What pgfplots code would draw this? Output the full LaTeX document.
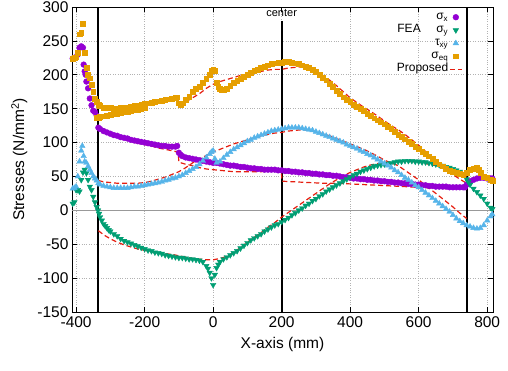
\documentclass[border=0pt]{standalone}
\usepackage{fontspec}
\setmainfont{Liberation Sans}
\usepackage{pgfplots}
\pgfplotsset{compat=1.18}
\definecolor{cx}{HTML}{9400D3}
\definecolor{cy}{HTML}{009E73}
\definecolor{cxy}{HTML}{56B4E9}
\definecolor{ceq}{HTML}{E69F00}
\definecolor{cred}{HTML}{E51E10}
\begin{document}
\begin{tikzpicture}
\begin{axis}[
  scale only axis, width=421pt, height=305pt,
  xmin=-412, xmax=817, ymin=-150, ymax=300,
  xtick={-400,-200,0,200,400,600,800},
  ytick={-150,-100,-50,0,50,100,150,200,250,300},
  tick align=inside, major tick length=5pt,
  tick style={black, line width=0.6pt},
  axis line style={black, line width=0.8pt},
  grid=major, major grid style={dotted, gray!60, line width=0.6pt},
  /pgf/number format/assume math mode=true,
  tick label style={font=\fontsize{15.5}{17}\selectfont},
  xticklabel style={yshift=-1pt},
  xlabel={X-axis (mm)}, ylabel={Stresses (N/mm\textsuperscript{2})},
  label style={font=\fontsize{15.5}{17}\selectfont},
  xlabel style={at={(axis description cs:0.5,-0.108)}, anchor=center},
  ylabel style={at={(axis description cs:-0.125,0.5)}, anchor=center},
  legend style={draw=none, fill=none, at={(axis description cs:0.935,0.995)}, anchor=north east,
    font=\fontsize{12}{12}\selectfont, row sep=0pt,
    nodes={inner sep=1pt, text height=8.2pt, text depth=2.8pt}, cells={anchor=east}},
  legend plot pos=right,
  legend image code/.code={\draw[mark repeat=2,mark phase=2,#1] plot coordinates {(0pt,0pt) (6pt,0pt) (12pt,0pt)};},
  clip=true,
]
\draw[gray!80, line width=1.2pt] (axis cs:-412,0) -- (axis cs:817,0);

% sigma_x FEA
\addplot[only marks, mark=*, mark size=2.9pt, color=cx] coordinates {
(-410,224)(-405,225)(-400,226)(-395,230)(-390,240)(-385,242)(-380,240)(-378,215)(-375,205)(-372,200)(-370,190)(-365,180)(-360,165)(-355,155)(-350,147)(-345,145)(-340,140)(-338,137)(-335,122)(-330,120)(-320,117)(-310,115)(-300,113)(-290,111)(-280,110)(-270,108)(-260,107)(-250,106)(-240,104)(-230,103)(-220,102)(-210,101)(-200,100)(-190,99)(-180,98)(-170,97)(-160,96)(-150,95)(-140,95)(-130,94)(-120,94)(-110,94)(-105,95)(-100,85)(-95,82)(-90,80)(-80,78)(-70,77)(-60,76)(-50,75)(-40,74)(-30,73)(-20,72)(-10,71)(0,70)(10,70)(20,69)(30,68)(40,67)(50,66)(60,66)(70,65)(80,64)(90,64)(100,63)(110,62)(120,62)(130,61)(140,61)(150,60)(160,60)(170,60)(180,60)(190,59)(200,59)(210,58)(220,58)(230,57)(240,57)(250,56)(260,56)(270,55)(280,55)(290,54)(300,54)(310,53)(320,53)(330,52)(340,52)(350,51)(360,51)(370,50)(380,49)(390,49)(400,48)(410,47)(420,47)(430,46)(440,46)(450,45)(460,45)(470,44)(480,44)(490,43)(500,43)(510,42)(520,42)(530,41)(540,41)(550,40)(560,40)(570,39)(580,39)(590,38)(600,38)(610,37)(620,37)(630,36)(640,36)(650,35)(660,35)(670,35)(680,35)(690,34)(700,34)(710,34)(720,34)(730,34)(735,34)(740,38)(745,40)(750,43)(760,45)(770,47)(780,48)(790,48)(800,47)(810,47)(815,47)
};
\addlegendentry{σ\textsubscript{x}}

% sigma_y FEA
\addplot[only marks, mark=triangle*, mark size=3.2pt, mark options={rotate=180}, color=cy] coordinates {
(-410,10)(-405,12)(-400,30)(-395,30)(-390,28)(-385,45)(-380,56)(-375,60)(-370,55)(-365,45)(-360,35)(-355,30)(-350,20)(-345,12)(-340,5)(-336,0)(-333,-5)(-330,-10)(-325,-15)(-320,-20)(-315,-23)(-310,-26)(-305,-29)(-300,-31)(-290,-35)(-280,-38)(-270,-42)(-260,-45)(-250,-47)(-240,-49)(-230,-51)(-220,-53)(-210,-55)(-200,-57)(-190,-59)(-180,-60)(-170,-62)(-160,-63)(-150,-64)(-140,-66)(-130,-67)(-120,-68)(-110,-69)(-100,-70)(-90,-70)(-80,-71)(-70,-72)(-60,-72)(-50,-73)(-40,-74)(-30,-76)(-20,-82)(-15,-86)(-10,-92)(-5,-100)(0,-110)(5,-95)(10,-85)(15,-80)(20,-76)(30,-72)(40,-69)(50,-66)(60,-63)(70,-60)(80,-56)(90,-52)(100,-48)(110,-44)(120,-41)(130,-38)(140,-35)(150,-31)(160,-28)(170,-25)(180,-22)(190,-20)(200,-17)(210,-14)(220,-11)(230,-7)(240,-4)(250,0)(260,3)(270,7)(280,10)(290,14)(300,17)(310,21)(320,24)(330,28)(340,31)(350,34)(360,37)(370,40)(380,43)(390,46)(400,49)(410,52)(420,54)(430,57)(440,59)(450,61)(460,63)(470,65)(480,66)(490,67)(500,68)(510,69)(520,70)(530,71)(540,72)(550,72)(560,73)(570,73)(580,73)(590,72)(600,72)(610,71)(620,71)(630,70)(640,69)(650,68)(660,67)(670,66)(680,64)(690,63)(700,61)(710,59)(720,57)(730,53)(740,46)(745,42)(750,38)(760,32)(770,27)(780,22)(790,17)(800,10)(810,4)(815,2)
};
\addlegendentry{σ\textsubscript{y}}

% tau_xy FEA
\addplot[only marks, mark=triangle*, mark size=3.2pt, color=cxy] coordinates {
(-410,32)(-405,33)(-400,35)(-395,50)(-390,72)(-385,88)(-382,95)(-378,80)(-375,72)(-370,70)(-365,65)(-360,60)(-355,55)(-350,50)(-345,47)(-340,44)(-335,40)(-330,38)(-320,36)(-310,35)(-300,34)(-290,33)(-280,33)(-270,33)(-260,33)(-250,33)(-240,34)(-230,35)(-220,35)(-210,36)(-200,37)(-190,38)(-180,39)(-170,40)(-160,41)(-150,42)(-140,44)(-130,45)(-120,47)(-110,48)(-100,50)(-90,52)(-80,55)(-70,58)(-60,61)(-50,64)(-40,68)(-30,73)(-20,78)(-10,83)(-5,86)(0,88)(5,76)(10,70)(20,72)(30,77)(40,82)(50,86)(60,90)(70,93)(80,96)(90,99)(100,102)(110,104)(120,107)(130,109)(140,111)(150,113)(160,115)(170,117)(180,118)(190,119)(200,120)(210,121)(220,122)(230,122)(240,122)(250,122)(260,121)(270,120)(280,119)(290,118)(300,116)(310,114)(320,112)(330,110)(340,108)(350,106)(360,104)(370,102)(380,100)(390,97)(400,95)(410,93)(420,91)(430,88)(440,86)(450,83)(460,81)(470,78)(480,75)(490,72)(500,69)(510,66)(520,63)(530,59)(540,56)(550,52)(560,48)(570,45)(580,41)(590,37)(600,34)(610,30)(620,26)(630,22)(640,18)(650,14)(660,10)(670,6)(680,2)(690,-2)(700,-7)(710,-12)(720,-16)(730,-19)(740,-22)(750,-24)(760,-26)(770,-27)(780,-26)(790,-22)(800,-15)(810,-9)(815,-6)
};
\addlegendentry{τ\textsubscript{xy}}

% sigma_eq FEA (lower branch near the support)
\addplot[only marks, mark=square*, mark size=2.4pt, color=ceq, forget plot] coordinates {
(-340,137)(-335,137)(-330,138)(-320,139)(-310,140)(-300,141)(-290,142)(-280,143)(-270,144)(-260,145)(-250,146)(-240,147)(-230,148)(-220,149)(-210,150)(-200,151)
};
% sigma_eq FEA
\addplot[only marks, mark=square*, mark size=2.4pt, color=ceq] coordinates {
(-410,224)(-405,225)(-400,226)(-395,232)(-390,260)(-385,262)(-380,275)(-375,232)(-370,210)(-365,200)(-360,195)(-355,185)(-350,175)(-345,165)(-340,160)(-335,156)(-330,154)(-320,152)(-310,151)(-300,151)(-290,150)(-280,150)(-270,151)(-260,151)(-250,152)(-240,153)(-230,154)(-220,155)(-210,156)(-200,157)(-190,158)(-180,159)(-170,160)(-160,161)(-150,162)(-140,163)(-130,164)(-120,165)(-110,166)(-105,167)(-100,158)(-95,155)(-90,158)(-80,163)(-70,168)(-60,175)(-50,180)(-40,183)(-30,188)(-20,194)(-10,200)(-5,206)(0,207)(5,206)(10,188)(15,182)(20,180)(25,178)(30,178)(40,180)(50,184)(60,188)(70,191)(80,194)(90,197)(100,200)(110,203)(120,206)(130,208)(140,210)(150,212)(160,214)(170,216)(180,217)(190,218)(200,218)(210,219)(220,219)(230,218)(240,217)(250,216)(260,214)(270,212)(280,210)(290,207)(300,204)(310,200)(320,196)(330,192)(340,187)(350,182)(360,177)(370,172)(380,167)(390,163)(400,160)(410,156)(420,153)(430,150)(440,147)(450,143)(460,140)(470,136)(480,133)(490,130)(500,127)(510,123)(520,120)(530,116)(540,112)(550,109)(560,105)(570,101)(580,98)(590,94)(600,91)(610,87)(620,84)(630,80)(640,76)(650,72)(660,68)(670,65)(680,62)(690,59)(700,57)(710,55)(720,54)(730,52)(740,55)(750,60)(760,62)(770,63)(775,60)(780,55)(790,50)(800,48)(810,45)(815,44)
};
\addlegendentry{σ\textsubscript{eq}}

% support / center lines
\draw[black, line width=1.8pt] (axis cs:-335,-150) -- (axis cs:-335,300);
\draw[black, line width=1.8pt] (axis cs:200,-150) -- (axis cs:200,279);
\draw[black, line width=1.8pt] (axis cs:740,-150) -- (axis cs:740,300);

% Proposed
\addplot[cred, line width=1.2pt, dash pattern=on 5pt off 3pt] coordinates {
(-335,156)(-320,153)(-300,151)(-280,150)(-260,151)(-240,152)(-220,154)(-200,156)(-180,158)(-160,160)(-140,161)(-120,163)(-102,165)(-100,155)(-80,160)(-60,166)(-40,172)(-20,180)(0,186)(20,190)(40,193)(60,196)(80,199)(100,201)(120,203)(140,205)(160,207)(180,208)(200,208)(220,210)(240,211)(260,212)(280,210)(300,205)(320,199)(340,192)(360,184)(380,175)(400,166)(420,159)(440,152)(460,146)(480,139)(500,132)(520,125)(540,119)(560,112)(580,104)(600,96)(620,87)(640,78)(660,69)(680,61)(700,53)(720,46)(740,40)
};
\addlegendentry{Proposed}
\addplot[cred, line width=1.2pt, dash pattern=on 5pt off 3pt, forget plot] coordinates {
(-335,122)(-320,118)(-300,113)(-280,109)(-260,105)(-240,102)(-220,99)(-200,97)(-180,95)(-160,92)(-140,90)(-120,88)(-102,86)(-100,71)(-80,68)(-60,66)(-40,63)(-20,61)(0,60)(20,59)(40,58)(60,57)(80,57)(100,57)(120,57)(140,57)(160,58)(180,58)(199,58)(201,43)(240,42)(280,41)(320,40)(360,40)(400,39)(440,38)(480,37)(520,36)(560,35)(600,34)(640,33)(680,32)(720,32)(740,31)
};
\addplot[cred, line width=1.2pt, dash pattern=on 5pt off 3pt, forget plot] coordinates {
(-335,-30)(-320,-36)(-300,-42)(-280,-47)(-260,-51)(-240,-54)(-220,-57)(-200,-59)(-180,-61)(-160,-63)(-140,-64)(-120,-65)(-100,-67)(-80,-69)(-60,-71)(-40,-72)(-20,-73)(0,-73)(20,-71)(40,-68)(60,-62)(80,-55)(100,-47)(120,-40)(140,-33)(160,-25)(180,-18)(200,-10)(220,-3)(240,4)(260,11)(280,18)(300,25)(320,32)(340,39)(360,45)(380,51)(400,56)(420,60)(440,64)(460,67)(480,69)(500,70)(520,71)(540,72)(560,72)(580,72)(600,71)(620,69)(640,67)(660,65)(680,62)(700,59)(720,55)(740,50)
};
\addplot[cred, line width=1.2pt, dash pattern=on 5pt off 3pt, forget plot] coordinates {
(-335,44)(-320,42)(-300,41)(-280,40)(-260,40)(-240,40)(-220,40)(-200,41)(-180,43)(-160,46)(-140,49)(-120,53)(-100,57)(-80,63)(-60,70)(-40,76)(-20,81)(0,86)(20,90)(40,94)(60,98)(80,101)(100,104)(120,107)(140,110)(160,112)(180,114)(200,115)(220,117)(240,118)(260,119)(280,118)(300,116)(320,113)(340,110)(360,106)(380,102)(400,98)(420,94)(440,90)(460,85)(480,80)(500,74)(520,70)(540,66)(560,59)(580,52)(600,45)(620,37)(640,29)(660,21)(680,13)(700,5)(720,-4)(740,-12)
};

\node[font=\fontsize{11}{12}\selectfont, anchor=north, inner sep=1pt] at (axis cs:200,298) {center};
\node[font=\fontsize{12}{13}\selectfont, anchor=center] at (axis cs:572,268) {FEA};
\end{axis}
\pgfresetboundingbox
\path[use as bounding box] (-72pt,-58pt) rectangle (436pt,312pt);
\end{tikzpicture}
\end{document}
